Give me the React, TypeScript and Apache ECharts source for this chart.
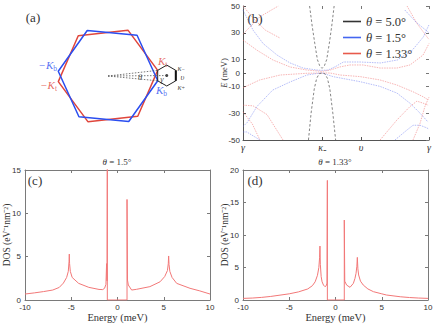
import React, { useEffect, useRef } from 'react';
import * as echarts from 'echarts';

// ---------- colours & fonts ----------
const RED = '#e0463c';
const BLUE = '#2b4ef0';
const BAND_RED = '#ee5a5a';
const BAND_BLUE = '#5a6cf0';
const DOS_RED = '#f27878';
const AXIS = '#7a7a7a';
const TXT = '#333';
const SERIF = 'Liberation Serif';
const SANS = 'Liberation Sans';

// ---------- panel (a): Brillouin zones ----------
const redHex = [[0.994, 0.113], [0.399, 0.917], [-0.595, 0.804], [-0.994, -0.113], [-0.399, -0.917], [0.595, -0.804], [0.994, 0.113]];
const blueHex = [[0.995, -0.096], [0.581, 0.814], [-0.415, 0.91], [-0.995, 0.096], [-0.581, -0.814], [0.415, -0.91], [0.995, -0.096]];
const moireHex = [[0.994, 0.113], [1.175, 0.218], [1.356, 0.113], [1.356, -0.096], [1.175, -0.2], [0.994, -0.096], [0.994, 0.113]];
const moireEdge = [[1.356, 0.113], [1.356, -0.096]];
const thetaRays = [
  [[0, 0], [0.994, 0.113]],
  [[0, 0], [0.995, -0.096]],
  [[0, 0], [1.175, 0.009]],
];
const gammaPoint = [[1.175, 0.009]];
const aLabelText = ['{k|−K}{s|b}', '{k|−K}{s|t}', '{k|K}{s|t}', '{k|K}{s|b}', '{m|κ}{n|−}', '{m|υ}', '{m|κ}{n|+}', '{m|γ}', '{m|θ}'];
const aLabelPos = [[-1.0, 0.22], [-1.0, -0.18], [0.98, 0.3], [0.94, -0.28], [1.37, 0.17], [1.43, -0.02], [1.37, -0.21], [1.08, -0.05], [0.64, -0.02]];

// ---------- panel (b): bands ----------
const thetaNames = ['θ = 5.0°', 'θ = 1.5°', 'θ = 1.33°'];
const bTickPos = [0, 0.425, 0.634, 1];
const bTickLabels = ['γ', 'κ₋', 'υ', 'γ'];
const bYTicks = [-50, -30, -10, 0, 10, 30, 50];

const black5Up = [[0.358, 50], [0.372, 35], [0.386, 22], [0.4, 10], [0.412, 5.5], [0.425, 3.5], [0.438, 5.5], [0.45, 10], [0.464, 22], [0.477, 35], [0.49, 50]];
const black5Dn = [[0.352, -50], [0.366, -30], [0.383, -12], [0.396, -4], [0.41, -0.5], [0.425, 0], [0.44, -0.5], [0.454, -4], [0.467, -12], [0.483, -30], [0.498, -50]];

const blueUp = [[0, 47], [0.054, 32], [0.108, 22], [0.183, 13.4], [0.253, 7.5], [0.323, 3.7], [0.398, 2.2], [0.425, 2], [0.457, 2.2], [0.5, 5], [0.54, 8.2], [0.63, 8.2], [0.74, 7.5], [0.83, 9.7], [0.91, 17], [0.97, 27], [1, 36]];
const blueDn = [[0, -40], [0.022, -37], [0.075, -25], [0.16, -12.7], [0.253, -6.7], [0.344, -1.5], [0.4, -0.3], [0.425, 0], [0.484, -2.7], [0.63, -6.5], [0.737, -10], [0.828, -15], [0.898, -22.6], [0.952, -30], [0.995, -36.6]];
const blueLowL = [[0, -44], [0.02, -44], [0.091, -50]];
const blueLowR = [[0.817, -50], [0.882, -42.5], [0.914, -39], [0.952, -39], [0.989, -41], [1, -42]];
const blueHighR = [[0.87, 47], [0.93, 38], [1, 30]];

const redUp = [[0, 24.6], [0.075, 17], [0.161, 9.7], [0.253, 4.5], [0.344, 2.2], [0.425, 1.2], [0.468, 2.2], [0.52, 4.5], [0.575, 6], [0.645, 6], [0.737, 3.7], [0.828, 3.7], [0.898, 6], [0.968, 13.4], [1, 22]];
const redDn = [[0, -11], [0.09, -5.2], [0.2, -1.5], [0.344, -0.2], [0.425, 0], [0.468, 0], [0.522, -1.5], [0.63, -2.7], [0.737, -5.2], [0.828, -9], [0.914, -14], [0.968, -17.7], [0.995, -20]];
const redLowL1 = [[0, -24], [0.054, -24.5], [0.129, -31], [0.215, -50]];
const redLowL2 = [[0, -29], [0.05, -38], [0.091, -50]];
const redHighL1 = [[0, 29], [0.091, 42], [0.19, 50]];
const redHighL2 = [[0, 50], [0.054, 41], [0.12, 32], [0.2, 26]];
const redLowR1 = [[0.737, -50], [0.828, -35], [0.898, -25], [0.935, -21], [0.968, -22.5], [0.995, -24]];
const redLowR2 = [[0.914, -50], [0.952, -37.5], [0.978, -25], [1, -18]];
const redHighR = [[0.882, 50], [0.935, 37], [0.989, 27], [1, 25]];

// ---------- panels (c), (d): DOS ----------
const dosC = [
  [-10, 0.69], [-9, 0.82], [-8, 0.97], [-7, 1.15], [-6.3, 1.45], [-5.85, 1.95], [-5.5, 2.6], [-5.32, 3.3], [-5.24, 4.4], [-5.21, 5.3], [-5.18, 4.2], [-5.1, 3.3], [-4.9, 2.6], [-4.2, 1.92], [-3.1, 1.46], [-2.0, 1.22], [-1.6, 1.2], [-1.4, 1.35], [-1.25, 1.8], [-1.18, 4.2], [-1.13, 2.2], [-1.1, 17], [-1.1, 0],
  [1.03, 0], [1.03, 11.6], [1.08, 2.3], [1.17, 1.73], [1.53, 1.15], [2.05, 1.23], [3.5, 1.54], [4.6, 2.1], [5.1, 2.7], [5.4, 3.4], [5.49, 4.2], [5.53, 5.08], [5.57, 4.1], [5.66, 3.3], [5.9, 2.6], [6.4, 1.92], [7.84, 1.35], [8.9, 1.05], [10, 0.69],
];
const dosD = [
  [-10, 0.25], [-9, 0.3], [-8, 0.4], [-7, 0.55], [-6, 0.75], [-5, 0.95], [-4, 1.25], [-3, 1.7], [-2.5, 2.2], [-2.2, 2.8], [-1.95, 3.8], [-1.8, 5.0], [-1.72, 6.5], [-1.68, 8.3], [-1.64, 5.5], [-1.55, 3.6], [-1.45, 2.8], [-1.3, 2.3], [-1.14, 2.05], [-1.0, 2.2], [-0.92, 2.6], [-0.88, 18.4], [-0.88, 0],
  [0.95, 0], [0.95, 12.3], [1.0, 2.9], [1.2, 2.3], [1.57, 1.95], [1.93, 2.56], [2.1, 3.3], [2.22, 4.1], [2.31, 5.2], [2.36, 6.56], [2.42, 4.8], [2.5, 3.85], [2.7, 2.9], [3.0, 2.3], [3.5, 1.7], [4.1, 1.28], [5, 0.95], [5.5, 0.77], [7, 0.5], [8, 0.38], [9, 0.3], [10, 0.25],
];
const titleC = '1.5°';
const titleD = '1.33°';

function buildOption() {
  const tickLabel = { fontFamily: SANS, fontSize: 8, color: TXT };
  const boxAxis = (grid: number, pos: string, min: number, max: number, interval: number) => ({
    gridIndex: grid,
    type: 'value',
    position: pos,
    min,
    max,
    interval,
    axisLine: { show: true, onZero: false, lineStyle: { color: AXIS, width: 1 } },
    axisTick: { show: true, inside: true, length: 3, lineStyle: { color: AXIS } },
    axisLabel: { show: false },
    splitLine: { show: false },
  });

  const aLabelStyle = [
    { c: BLUE, p: 'left' }, { c: RED, p: 'left' }, { c: RED, p: 'right' }, { c: BLUE, p: 'right' },
    { c: '#222', p: 'right' }, { c: '#222', p: 'right' }, { c: '#222', p: 'right' }, { c: '#222', p: 'inside' }, { c: '#222', p: 'inside' },
  ];

  const hexSeries = (data: number[][], color: string, width: number) => ({
    type: 'line', xAxisIndex: 0, yAxisIndex: 0, data, symbol: 'none', silent: true,
    lineStyle: { color, width }, z: 3,
  });

  const band = (name: string, color: string, data: number[][], dashed = false) => ({
    type: 'line', name, xAxisIndex: 1, yAxisIndex: 1, data, symbol: 'none', silent: true, color,
    lineStyle: dashed ? { color, width: 0.8, type: [2.5, 2] } : { color, width: 1, type: [1.5, 1], opacity: 0.45 },
    z: 2,
  });

  const series: any[] = [
    hexSeries(redHex, RED, 1.5),
    hexSeries(blueHex, BLUE, 1.5),
    hexSeries(moireHex, '#222', 1),
    hexSeries(moireEdge, '#111', 2),
    ...thetaRays.map((r) => ({
      type: 'line', xAxisIndex: 0, yAxisIndex: 0, data: r, symbol: 'none', silent: true,
      lineStyle: { color: '#555', width: 0.8, type: [1.5, 1.5] },
    })),
    {
      type: 'scatter', xAxisIndex: 0, yAxisIndex: 0, data: gammaPoint, symbolSize: 3,
      itemStyle: { color: '#111' }, silent: true,
    },
    {
      type: 'scatter', xAxisIndex: 0, yAxisIndex: 0, symbolSize: 0, silent: true,
      data: aLabelPos.map((p, i) => ({
        value: p,
        label: {
          show: true, formatter: aLabelText[i], color: aLabelStyle[i].c, position: aLabelStyle[i].p, distance: 1,
        },
      })),
      label: {
        show: true,
        rich: {
          k: { fontFamily: SERIF, fontStyle: 'italic', fontSize: 11, lineHeight: 14 },
          s: { fontFamily: SERIF, fontSize: 7.5, lineHeight: 8, verticalAlign: 'bottom' },
          m: { fontFamily: SERIF, fontStyle: 'italic', fontSize: 8.5, lineHeight: 9 },
          n: { fontFamily: SERIF, fontSize: 6, lineHeight: 5, verticalAlign: 'bottom' },
        },
      },
    },
    // panel (b)
    band(thetaNames[2], BAND_RED, redUp), band(thetaNames[2], BAND_RED, redDn),
    band(thetaNames[2], BAND_RED, redLowL1), band(thetaNames[2], BAND_RED, redLowL2),
    band(thetaNames[2], BAND_RED, redHighL1), band(thetaNames[2], BAND_RED, redHighL2),
    band(thetaNames[2], BAND_RED, redLowR1), band(thetaNames[2], BAND_RED, redLowR2),
    band(thetaNames[2], BAND_RED, redHighR),
    band(thetaNames[1], BAND_BLUE, blueUp), band(thetaNames[1], BAND_BLUE, blueDn),
    band(thetaNames[1], BAND_BLUE, blueLowL), band(thetaNames[1], BAND_BLUE, blueLowR),
    band(thetaNames[1], BAND_BLUE, blueHighR),
    band(thetaNames[0], '#666', black5Up, true), band(thetaNames[0], '#666', black5Dn, true),
    // DOS
    {
      type: 'line', xAxisIndex: 2, yAxisIndex: 2, data: dosC, symbol: 'none', silent: true, clip: true,
      lineStyle: { color: DOS_RED, width: 1 },
    },
    {
      type: 'line', xAxisIndex: 3, yAxisIndex: 3, data: dosD, symbol: 'none', silent: true, clip: true,
      lineStyle: { color: DOS_RED, width: 1 },
    },
  ];

  const dosX = (grid: number) => ({
    gridIndex: grid, type: 'value', min: -10, max: 10, interval: 5,
    name: 'Energy (meV)', nameLocation: 'middle', nameGap: 9,
    nameTextStyle: { fontFamily: SERIF, fontSize: 10.5, color: TXT },
    axisLine: { onZero: false, lineStyle: { color: AXIS } },
    axisTick: { inside: true, length: 3, lineStyle: { color: AXIS } },
    axisLabel: { ...tickLabel, margin: 3 },
    splitLine: { show: false },
  });
  const dosY = (grid: number, max: number) => ({
    gridIndex: grid, type: 'value', min: 0, max, interval: 5,
    name: 'DOS (eV⁻¹nm⁻²)', nameLocation: 'middle', nameGap: 13, nameRotate: 90, nameMoveOverlap: false,
    nameTextStyle: { fontFamily: SERIF, fontSize: 9.5, color: TXT },
    axisLine: { onZero: false, lineStyle: { color: AXIS } },
    axisTick: { inside: true, length: 3, lineStyle: { color: AXIS } },
    axisLabel: { ...tickLabel, margin: 4 },
    splitLine: { show: false },
  });

  return {
    animation: false,
    backgroundColor: '#fff',
    grid: [
      { left: 8, top: 6, width: 200, height: 140, outerBoundsMode: 'none' },
      { left: 243, top: 6, width: 186, height: 134, outerBoundsMode: 'none' },
      { left: 25, top: 170, width: 185, height: 130, outerBoundsMode: 'none' },
      { left: 243, top: 170, width: 185, height: 130, outerBoundsMode: 'none' },
    ],
    xAxis: [
      { gridIndex: 0, type: 'value', min: -2, max: 2, show: false },
      {
        gridIndex: 1, type: 'value', min: 0, max: 1,
        axisLine: { onZero: false, lineStyle: { color: '#555' } },
        axisTick: { inside: true, length: 3, customValues: bTickPos, lineStyle: { color: '#555' } },
        axisLabel: {
          customValues: bTickPos, fontFamily: SERIF, fontStyle: 'italic', fontSize: 10, color: TXT, margin: 2,
          formatter: (v: number) => { const i = bTickPos.indexOf(v); return i >= 0 ? bTickLabels[i] : ''; },
        },
        splitLine: { show: false },
      },
      dosX(2),
      dosX(3),
      boxAxis(2, 'top', -10, 10, 5),
      boxAxis(3, 'top', -10, 10, 5),
      {
        gridIndex: 1, type: 'value', position: 'top', min: 0, max: 1,
        axisLine: { show: false, onZero: false },
        axisTick: { show: true, inside: true, length: 3, customValues: bTickPos, lineStyle: { color: '#777' } },
        axisLabel: { show: false }, splitLine: { show: false },
      },
    ],
    yAxis: [
      { gridIndex: 0, type: 'value', min: -1.4, max: 1.4, show: false },
      {
        gridIndex: 1, type: 'value', min: -50, max: 50,
        name: '{i|E} (meV)', nameLocation: 'middle', nameGap: 15, nameRotate: 90, nameMoveOverlap: false,
        nameTextStyle: { fontFamily: SERIF, fontSize: 8.5, color: TXT, rich: { i: { fontFamily: SERIF, fontStyle: 'italic', fontSize: 8.5 } } },
        axisLine: { onZero: false, lineStyle: { color: '#555' } },
        axisTick: { inside: true, length: 3, customValues: bYTicks, lineStyle: { color: '#555' } },
        axisLabel: { ...tickLabel, customValues: bYTicks, margin: 3 },
        splitLine: { show: false },
      },
      dosY(2, 15),
      dosY(3, 20),
      boxAxis(2, 'right', 0, 15, 5),
      boxAxis(3, 'right', 0, 20, 5),
      {
        gridIndex: 1, type: 'value', position: 'right', min: -50, max: 50,
        axisLine: { show: false, onZero: false },
        axisTick: { show: true, inside: true, length: 3, customValues: bYTicks, lineStyle: { color: '#777' } },
        axisLabel: { show: false }, splitLine: { show: false },
      },
    ],
    legend: {
      data: [
        { name: thetaNames[0], itemStyle: { color: '#333', opacity: 1 } },
        { name: thetaNames[1], itemStyle: { color: '#4466f0', opacity: 1 } },
        { name: thetaNames[2], itemStyle: { color: '#e85a4c', opacity: 1 } },
      ],
      orient: 'vertical', left: 338, top: 10, icon: 'rect', itemWidth: 18, itemHeight: 1.6, itemGap: 3,
      selectedMode: false,
      formatter: (name: string) => `{i|θ}{r|${name.slice(1)}}`,
      textStyle: {
        fontFamily: SERIF, fontSize: 12.5, color: TXT,
        rich: {
          i: { fontFamily: SERIF, fontStyle: 'italic', fontSize: 12.5, color: TXT },
          r: { fontFamily: SERIF, fontSize: 12.5, color: TXT },
        },
      },
    },
    graphic: [
      { type: 'text', x: 33, y: 17, style: { text: '(a)', fontFamily: SERIF, fontSize: 13, fill: TXT, align: 'center', verticalAlign: 'middle' } },
      { type: 'text', x: 255, y: 18, style: { text: '(b)', fontFamily: SERIF, fontSize: 13, fill: TXT, align: 'center', verticalAlign: 'middle' } },
      { type: 'text', x: 35, y: 180, style: { text: '(c)', fontFamily: SERIF, fontSize: 13, fill: TXT, align: 'center', verticalAlign: 'middle' } },
      { type: 'text', x: 255, y: 180, style: { text: '(d)', fontFamily: SERIF, fontSize: 13, fill: TXT, align: 'center', verticalAlign: 'middle' } },
      {
        type: 'text', x: 117, y: 162,
        style: {
          text: `{i|θ} = ${titleC}`, fontFamily: SERIF, fontSize: 9, fill: TXT, align: 'center', verticalAlign: 'middle',
          rich: { i: { fontFamily: SERIF, fontStyle: 'italic', fontSize: 9 } },
        },
      },
      {
        type: 'text', x: 335, y: 162,
        style: {
          text: `{i|θ} = ${titleD}`, fontFamily: SERIF, fontSize: 9, fill: TXT, align: 'center', verticalAlign: 'middle',
          rich: { i: { fontFamily: SERIF, fontStyle: 'italic', fontSize: 9 } },
        },
      },
    ],
    series,
  };
}

export default function App() {
  const ref = useRef<HTMLDivElement>(null);
  useEffect(() => {
    if (!ref.current) return;
    const chart = echarts.init(ref.current, undefined, { renderer: 'svg' });
    chart.setOption(buildOption() as any);
    return () => chart.dispose();
  }, []);
  return <div ref={ref} style={{ position: 'fixed', left: 0, top: 0, width: 436, height: 327, background: '#fff' }} />;
}
